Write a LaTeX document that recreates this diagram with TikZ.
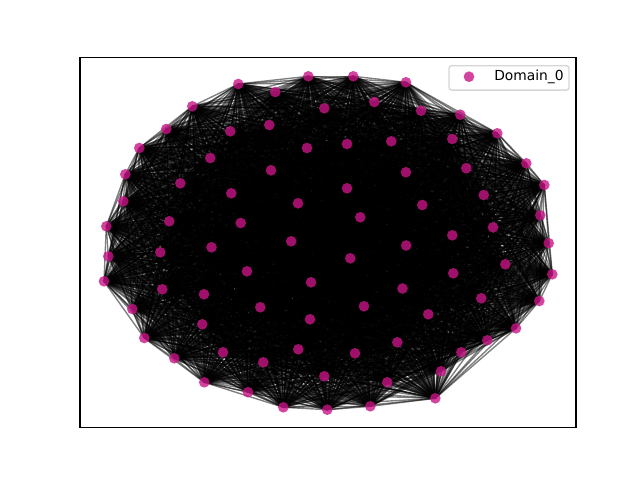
\documentclass[tikz,border=0pt]{standalone}
\usepackage{fontspec}
\setmainfont{DejaVu Sans}
\usetikzlibrary{backgrounds}
\definecolor{domain}{RGB}{199,21,133}
\begin{document}
\begin{tikzpicture}[
    x = 0.0254cm,
    y = -0.0254cm,
    vertex/.style = {
      circle,
      fill = domain,
      fill opacity = 0.8,
      minimum size = 7.7pt,
      inner sep = 0pt,
      outer sep = 0pt
    },
    link/.style = {
      draw = black,
      draw opacity = 0.5,
      line width = 1pt
    },
    frame/.style = {
      draw = black,
      line width = 0.8pt
    },
    legendbox/.style = {
      draw = black!20,
      fill = white,
      fill opacity = 0.8,
      draw opacity = 0.8,
      rounded corners = 2pt,
      line width = 1pt,
      minimum width = 3.05cm,
      minimum height = 0.62cm,
      inner sep = 0pt
    }
  ]
  \useasboundingbox (0,0) rectangle (640,480);

  \foreach \px/\py [count=\n] in {
      238.3/84, 192.3/106.3, 230.3/131.3, 166.3/129, 139.3/148, 210.3/158,
      125.3/174.3, 180.3/183.3, 231.3/193.3, 123.3/201.3, 169.3/221.3,
      240.7/223, 106.3/226.3, 211.5/247.3, 275.3/92, 308.3/76.3, 353.3/76.3,
      406/82.3, 324.3/108.3, 374.3/102, 269.3/125, 347/144, 391.3/141.3,
      307/148, 405.9/172.3, 271/170.3, 347/188.3, 298/203.3, 360.3/217.3,
      291.2/241.3, 406.2/245.5, 421/110.7, 460.3/114.7, 497.3/133.3,
      452.3/139, 526.3/163.3, 466.3/168.3, 544.3/185, 483.7/195, 422.3/205,
      540.3/215.3, 493/227.3, 452.3/235.3, 548.7/243.2, 108.3/256.3,
      160.3/252.3, 247/271.3, 104/281.3, 162.3/289.3, 204/294.3, 132.3/309,
      202.3/324.3, 144.3/338, 223/352.3, 174.3/358.3, 204.3/382.3,
      248/392.2, 350.3/258.3, 311/282.3, 402.5/288.5, 260.3/307.3,
      364/306.3, 310/319.3, 397.3/342.3, 298.3/349.3, 355/353.3,
      263.3/362.3, 324.3/376.3, 387.3/382.3, 283.3/407.3, 327.3/409.7,
      370.3/406.3, 505.3/264.3, 552.3/274.3, 453.3/273.3, 481.3/298.3,
      539.3/301, 428.3/314.3, 516/328.3, 487.3/340.3, 461.3/352.3,
      441/371.3, 435.3/398.3} {
    \node[vertex] (v\n) at (\px,\py) {};
  }

  \begin{pgfonlayer}{background}
    \foreach \i in {1,...,82} {
      \pgfmathtruncatemacro{\nexti}{\i+1}
      \foreach \j in {\nexti,...,83} {
        \draw[link] (v\i.center) -- (v\j.center);
      }
    }
  \end{pgfonlayer}

  \draw[frame] (80,57.6) rectangle (576,427.2);

  \node[legendbox] (legend) at (509,77.9) {};
  \node[vertex] (legmark) at (469,76.7) {};
  \node[anchor = base west, inner sep = 0pt, font = \fontsize{10pt}{12pt}\selectfont] (legtext) at (494,81) {Domain\_0};
\end{tikzpicture}
\end{document}
